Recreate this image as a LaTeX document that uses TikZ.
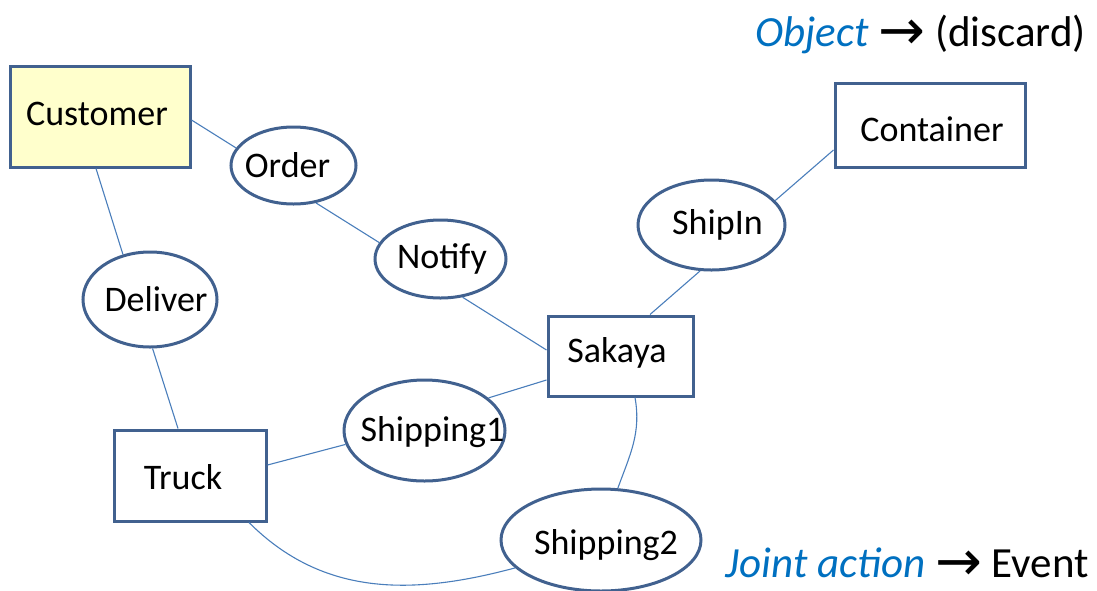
\documentclass[tikz,border=0pt]{standalone}
\usepackage{fontspec}
\setmainfont{Carlito}
\newfontfamily\arrowfont{DejaVu Sans}
\usetikzlibrary{shapes.geometric}
\definecolor{edgeblue}{HTML}{41618F}
\definecolor{linkblue}{HTML}{4A7EBB}
\definecolor{noteblue}{HTML}{0070C0}
\definecolor{custfill}{HTML}{FFFFCC}
\tikzset{
  txt/.style={font=\fontsize{36}{40}\selectfont, inner sep=0pt},
  legtxt/.style={font=\fontsize{43}{50}\selectfont, inner sep=0pt},
  % shapes keep their own size; the caption is set as a centred label
  objbox/.style={draw=edgeblue, line width=3pt, fill=white, inner sep=0pt},
  actell/.style={ellipse, draw=edgeblue, line width=3pt, fill=white, inner sep=0pt},
  link/.style={draw=linkblue, line width=1.1pt},
}
\newcommand{\toarrow}{\raisebox{-3pt}{\fontsize{56}{60}\arrowfont →}}
\begin{document}
\begin{tikzpicture}[x=1pt,y=-1pt]
\useasboundingbox (0,0) rectangle (1097,590);

% objects
\node[objbox, fill=custfill, minimum width=180pt, minimum height=101pt,
      label={[txt, xshift=-3pt, yshift=3pt]center:Customer}] (cust) at (100,116.5) {};
\node[objbox, minimum width=190pt, minimum height=84pt,
      label={[txt, xshift=2pt, yshift=-4pt]center:Container}] (cont) at (930,125) {};
\node[objbox, minimum width=145pt, minimum height=80pt,
      label={[txt, xshift=-3.5pt, yshift=3pt]center:Sakaya}] (sak) at (620.5,356) {};
\node[objbox, minimum width=152pt, minimum height=91pt,
      label={[txt, xshift=-7pt, yshift=-2pt]center:Truck}] (truck) at (190,475.5) {};

% joint actions
\node[actell, minimum width=125pt, minimum height=77pt,
      label={[txt, xshift=-6pt]center:Order}] (order) at (293.5,165.5) {};
\node[actell, minimum width=131pt, minimum height=78pt,
      label={[txt, xshift=1.5pt]center:Notify}] (notify) at (440.5,259) {};
\node[actell, minimum width=134pt, minimum height=95pt,
      label={[txt, xshift=6pt]center:Deliver}] (deliver) at (150,299.5) {};
\node[actell, minimum width=147pt, minimum height=90pt,
      label={[txt, xshift=6pt]center:ShipIn}] (shipin) at (711.5,225) {};
\node[actell, minimum width=161pt, minimum height=101pt,
      label={[txt, xshift=8pt, yshift=-2pt]center:Shipping1}] (ship1) at (424.5,430.5) {};
\node[actell, minimum width=200pt, minimum height=102pt,
      label={[txt, xshift=5pt, yshift=-5pt]center:Shipping2}] (ship2) at (601,540) {};

% links between objects and joint actions
\draw[link] ([yshift=-3.5pt]cust.east) -- (order.163.6);
\draw[link] (order.-59) -- (notify.165);
\draw[link] ([xshift=-4pt]cust.south) -- (deliver.121.6);
\draw[link] (deliver.-87.6) -- ([xshift=-12pt]truck.north);
\draw[link] (notify.-60.5) -- ([yshift=6pt]sak.west);
\draw[link] (shipin.-104.6) -- ([xshift=29.5pt]sak.north);
\draw[link] (shipin.21.5) -- ([yshift=-25pt]cont.west);
\draw[link] (ship1.27) -- ([yshift=-24pt]sak.west);
\draw[link] ([yshift=10.5pt]truck.east) -- (ship1.190);
\draw[link] ([xshift=14.5pt]sak.south) to[out=-80, in=70] (ship2.72);
\draw[link] ([xshift=59pt]truck.south) to[out=-45, in=195] (ship2.198);

% legend
\node[legtxt, anchor=base east] (legobj) at (1086,46)
  {\textcolor{noteblue}{\itshape Object} \toarrow{} (discard)};
\node[legtxt, anchor=base east] (legjoint) at (1089,577)
  {\textcolor{noteblue}{\itshape Joint action} \toarrow{} Event};
\end{tikzpicture}
\end{document}
